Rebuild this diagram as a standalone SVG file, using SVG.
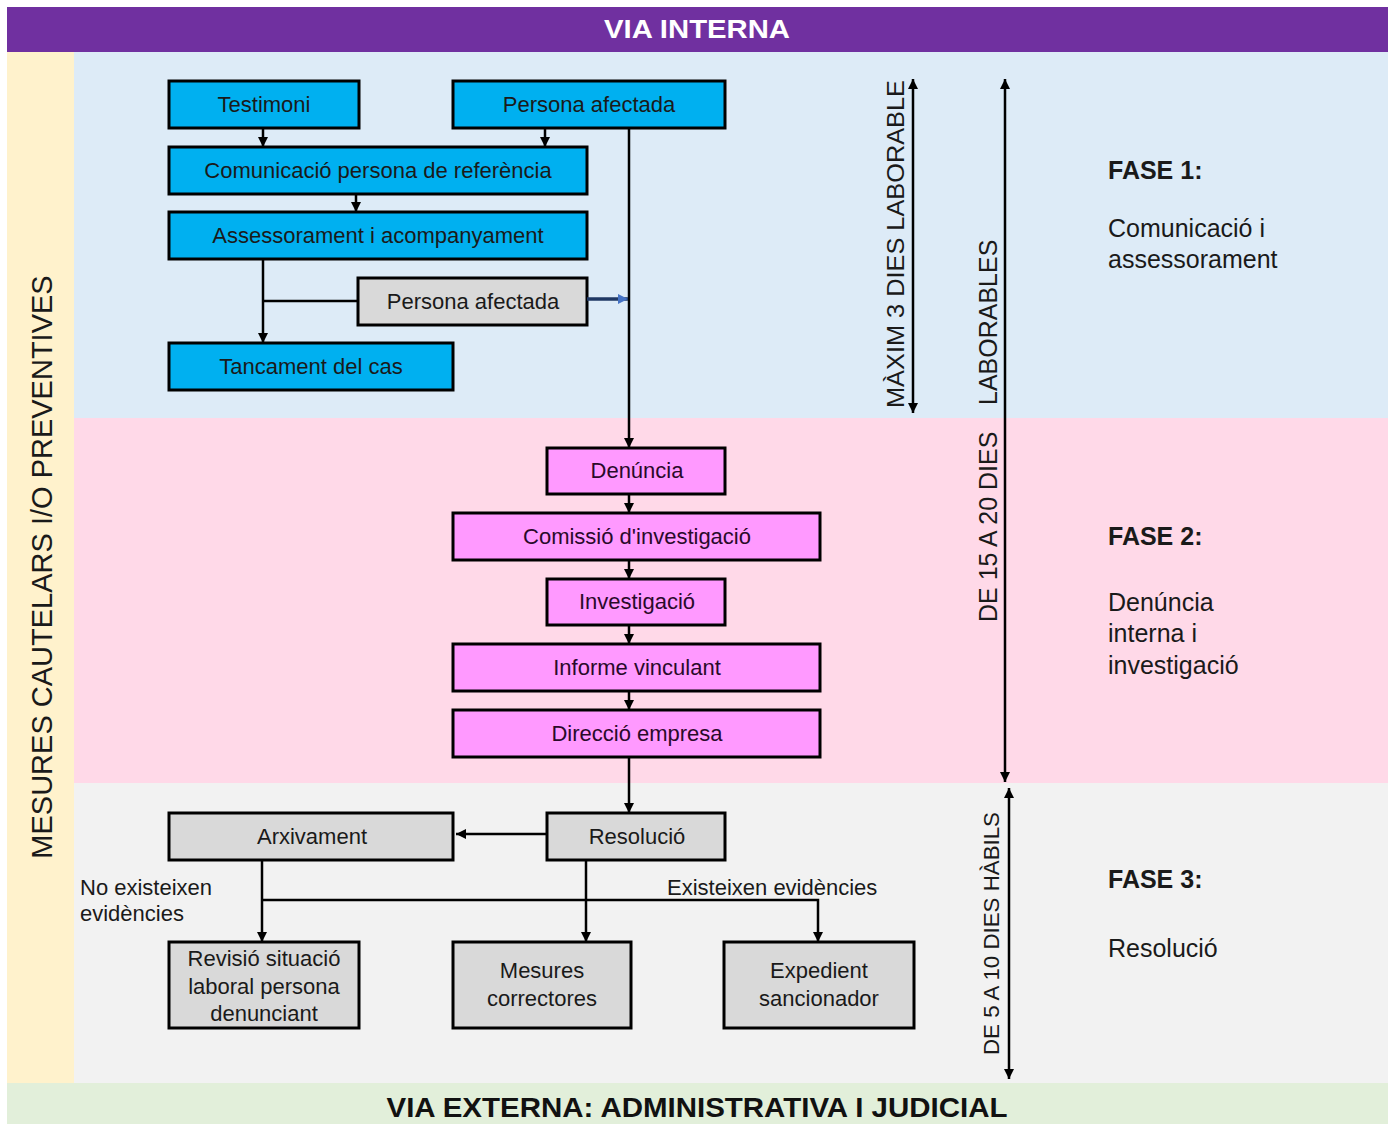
<svg xmlns="http://www.w3.org/2000/svg" width="1395" height="1124" viewBox="0 0 1395 1124">
<defs>
<marker id="ah" markerUnits="userSpaceOnUse" markerWidth="10" markerHeight="11" refX="10" refY="5" orient="auto-start-reverse" viewBox="0 0 10 10">
<path d="M0,0 L10,5 L0,10 z" fill="#000"/>
</marker>
<marker id="ahb" markerUnits="userSpaceOnUse" markerWidth="10" markerHeight="11" refX="10" refY="5" orient="auto" viewBox="0 0 10 10">
<path d="M0,0 L10,5 L0,10 z" fill="#4472C4"/>
</marker>
</defs>
<style>
text{font-family:"Liberation Sans",Arial,sans-serif;}
.n rect{stroke:#000;stroke-width:3;}
.blue rect{fill:#00B0F0;}
.pink rect{fill:#FF99FF;}
.gray rect{fill:#D9D9D9;}
.n text{font-size:22px;text-anchor:middle;fill:#1a1a1a;}
.pink text{fill:#2a0a2a;}
.c line,.c path{stroke:#000;stroke-width:2.5;fill:none;}
.a{marker-end:url(#ah);}
.d{marker-start:url(#ah);marker-end:url(#ah);}
.side{font-size:25px;fill:#1a1a1a;}
.sideb{font-size:25px;font-weight:bold;fill:#1a1a1a;}
.vt{fill:#1a1a1a;}
.lbl{font-size:22px;fill:#1a1a1a;}
</style>
<rect width="1395" height="1124" fill="#fff"/>
<g id="bands">
<rect x="7" y="7" width="1381" height="45" fill="#7030A0"/>
<rect x="7" y="52" width="67" height="1031" fill="#FFF2CC"/>
<rect x="74" y="52" width="1314" height="366" fill="#DDEBF7"/>
<rect x="74" y="418" width="1314" height="365" fill="#FFD9E8"/>
<rect x="74" y="783" width="1314" height="300" fill="#F2F2F2"/>
<rect x="7" y="1083" width="1381" height="41" fill="#E2EFDA"/>
<text x="697" y="38" font-size="26" font-weight="bold" fill="#fff" text-anchor="middle" textLength="186" lengthAdjust="spacingAndGlyphs">VIA INTERNA</text>
<text x="697" y="1117" font-size="28" font-weight="bold" fill="#111" text-anchor="middle" textLength="621" lengthAdjust="spacingAndGlyphs">VIA EXTERNA: ADMINISTRATIVA I JUDICIAL</text>
<text transform="translate(52,567) rotate(-90)" font-size="29" text-anchor="middle" class="vt">MESURES CAUTELARS I/O PREVENTIVES</text>
</g>
<g id="nodes">
<g id="n-testimoni" class="n blue"><rect x="169" y="81" width="190" height="47"/><text x="264" y="112">Testimoni</text></g>
<g id="n-persona1" class="n blue"><rect x="453" y="81" width="272" height="47"/><text x="589" y="112">Persona afectada</text></g>
<g id="n-comunicacio" class="n blue"><rect x="169" y="147" width="418" height="47"/><text x="378" y="178">Comunicació persona de referència</text></g>
<g id="n-assessorament" class="n blue"><rect x="169" y="212" width="418" height="47"/><text x="378" y="243">Assessorament i acompanyament</text></g>
<g id="n-persona2" class="n gray"><rect x="358" y="278" width="229" height="47"/><text x="473" y="309">Persona afectada</text></g>
<g id="n-tancament" class="n blue"><rect x="169" y="343" width="284" height="47"/><text x="311" y="374">Tancament del cas</text></g>
<g id="n-denuncia" class="n pink"><rect x="547" y="448" width="178" height="46"/><text x="637" y="478">Denúncia</text></g>
<g id="n-comissio" class="n pink"><rect x="453" y="513" width="367" height="47"/><text x="637" y="544">Comissió d'investigació</text></g>
<g id="n-investigacio" class="n pink"><rect x="547" y="579" width="178" height="46"/><text x="637" y="609">Investigació</text></g>
<g id="n-informe" class="n pink"><rect x="453" y="644" width="367" height="47"/><text x="637" y="675">Informe vinculant</text></g>
<g id="n-direccio" class="n pink"><rect x="453" y="710" width="367" height="47"/><text x="637" y="741">Direcció empresa</text></g>
<g id="n-arxivament" class="n gray"><rect x="169" y="813" width="284" height="47"/><text x="312" y="844">Arxivament</text></g>
<g id="n-resolucio" class="n gray"><rect x="547" y="813" width="178" height="47"/><text x="637" y="844">Resolució</text></g>
<g id="n-revisio" class="n gray"><rect x="169" y="942" width="190" height="86"/><text x="264" y="966">Revisió situació</text><text x="264" y="994">laboral persona</text><text x="264" y="1021">denunciant</text></g>
<g id="n-mesures" class="n gray"><rect x="453" y="942" width="178" height="86"/><text x="542" y="978">Mesures</text><text x="542" y="1006">correctores</text></g>
<g id="n-expedient" class="n gray"><rect x="724" y="942" width="190" height="86"/><text x="819" y="978">Expedient</text><text x="819" y="1006">sancionador</text></g>
</g>
<g id="connectors" class="c">
<line class="a" x1="263" y1="128" x2="263" y2="147"/>
<line class="a" x1="545" y1="128" x2="545" y2="147"/>
<line class="a" x1="356" y1="194" x2="356" y2="212"/>
<line class="a" x1="263" y1="259" x2="263" y2="343"/>
<line x1="263" y1="301" x2="358" y2="301"/>
<line class="a" x1="629" y1="128" x2="629" y2="448"/>
<line x1="587" y1="299" x2="628" y2="299" style="stroke:#1F3864;stroke-width:3.5;marker-end:url(#ahb)"/>
<line class="a" x1="629" y1="494" x2="629" y2="513"/>
<line class="a" x1="629" y1="560" x2="629" y2="579"/>
<line class="a" x1="629" y1="625" x2="629" y2="644"/>
<line class="a" x1="629" y1="691" x2="629" y2="710"/>
<line class="a" x1="629" y1="757" x2="629" y2="813"/>
<line class="a" x1="547" y1="834" x2="456" y2="834"/>
<line class="a" x1="262" y1="860" x2="262" y2="942"/>
<line class="a" x1="586" y1="860" x2="586" y2="942"/>
<path class="a" d="M262,900 L818,900 L818,942"/>
<line class="d" x1="913" y1="79" x2="913" y2="413"/>
<line class="d" x1="1005" y1="79" x2="1005" y2="782"/>
<line class="d" x1="1009" y1="788" x2="1009" y2="1079"/>
</g>
<g id="labels">
<text class="lbl" x="80" y="895">No existeixen</text>
<text class="lbl" x="80" y="921">evidències</text>
<text class="lbl" x="667" y="895">Existeixen evidències</text>
<text class="vt" transform="translate(904,408) rotate(-90)" font-size="24" textLength="328" lengthAdjust="spacingAndGlyphs">MÀXIM 3 DIES LABORABLE</text>
<text class="vt" transform="translate(997,622) rotate(-90)" font-size="25">DE 15 A 20 DIES<tspan x="217">LABORABLES</tspan></text>
<text class="vt" transform="translate(999,1055) rotate(-90)" font-size="22" textLength="243" lengthAdjust="spacingAndGlyphs">DE 5 A 10 DIES HÀBILS</text>
<text class="sideb" x="1108" y="179">FASE 1:</text>
<text class="side" x="1108" y="237">Comunicació i</text>
<text class="side" x="1108" y="268">assessorament</text>
<text class="sideb" x="1108" y="545">FASE 2:</text>
<text class="side" x="1108" y="611">Denúncia</text>
<text class="side" x="1108" y="642">interna i</text>
<text class="side" x="1108" y="674">investigació</text>
<text class="sideb" x="1108" y="888">FASE 3:</text>
<text class="side" x="1108" y="957">Resolució</text>
</g>
</svg>
